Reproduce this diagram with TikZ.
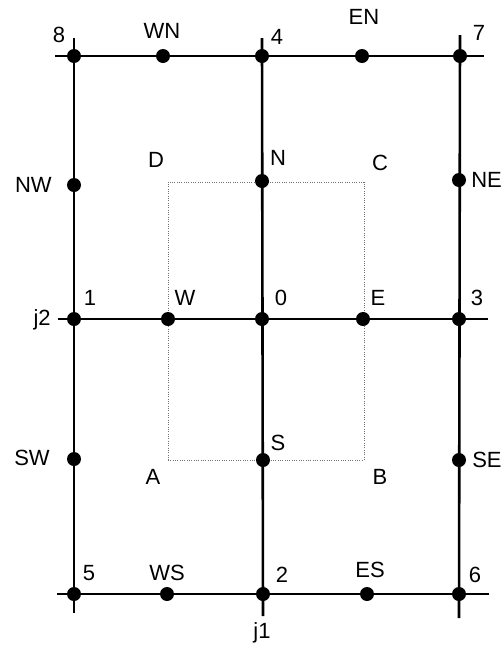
\documentclass[tikz,border=0pt]{standalone}
\usepackage{fontspec}
\setmainfont{Liberation Sans}
\usepackage{tikz}

\begin{document}
\begin{tikzpicture}[x=0.75pt,y=-0.75pt,
        gridline/.style={line width=1.95pt, black, line cap=butt},
        cell/.style={draw=black!55, line width=0.75pt, densely dotted},
        knot/.style={circle, fill=black, inner sep=0pt, minimum size=10.5pt},
        lbl/.style={inner sep=0pt, font=\fontsize{16.5}{18}\selectfont}]

        \useasboundingbox (0,0) rectangle (504,647);

        \coordinate (lt) at (74,38);
        \coordinate (lb) at (74,613);
        \coordinate (ct) at (262,38);
        \coordinate (cb) at (263,616);
        \coordinate (rt) at (460,35);
        \coordinate (rb) at (459,618);
        \coordinate (tw) at (55,56);
        \coordinate (te) at (484,56);
        \coordinate (mw) at (58,319);
        \coordinate (me) at (488,319);
        \coordinate (bw) at (57,594);
        \coordinate (be) at (489,594);

        \coordinate (cA) at (168,460);
        \coordinate (cB) at (364,460);
        \coordinate (cC) at (364,182);
        \coordinate (cD) at (168,182);

        \draw[cell] (cA) -- (cB) -- (cC) -- (cD) -- cycle;

        \draw[gridline] (lt) -- (lb);
        \draw[gridline] (ct) -- (cb);
        \draw[gridline] (rt) -- (rb);
        \draw[gridline] (tw) -- (te);
        \draw[gridline] (mw) -- (me);
        \draw[gridline] (bw) -- (be);

        \node[knot] (p8) at (74,56) {};
        \node[knot] (wn) at (163,56) {};
        \node[knot] (p4) at (262,56) {};
        \node[knot] (en) at (362,56) {};
        \node[knot] (p7) at (460,56) {};

        \node[knot] (nw) at (74,185) {};
        \node[knot] (nn) at (262,181) {};
        \node[knot] (ne) at (459,180) {};

        \node[knot] (p1) at (74,319) {};
        \node[knot] (ww) at (168,319) {};
        \node[knot] (p0) at (262,319) {};
        \node[knot] (ee) at (363,319) {};
        \node[knot] (p3) at (459,319) {};

        \node[knot] (sw) at (74,459) {};
        \node[knot] (ss) at (263,460) {};
        \node[knot] (se) at (459,460) {};

        \node[knot] (p5) at (74,594) {};
        \node[knot] (ws) at (167,594) {};
        \node[knot] (p2) at (263,594) {};
        \node[knot] (es) at (367,594) {};
        \node[knot] (p6) at (459,594) {};

        \node[lbl] (l8) at (59,35) {8};
        \node[lbl] (lwn) at (162,31) {WN};
        \node[lbl] (l4) at (277,37) {4};
        \node[lbl] (len) at (364,17) {EN};
        \node[lbl] (l7) at (479,33) {7};

        \node[lbl,anchor=east] (lnw) at (52,185) {NW};
        \node[lbl] (lD) at (156,160) {D};
        \node[lbl] (lN) at (278,158) {N};
        \node[lbl] (lC) at (380,163) {C};
        \node[lbl,anchor=west] (lne) at (471,180) {NE};

        \node[lbl,anchor=east] (lj2) at (51,320) {j2};
        \node[lbl] (l1) at (90,298) {1};
        \node[lbl] (lW) at (185,298) {W};
        \node[lbl] (l0) at (281,298) {0};
        \node[lbl] (lE) at (378,298) {E};
        \node[lbl] (l3) at (477,298) {3};

        \node[lbl,anchor=east] (lsw) at (50,458) {SW};
        \node[lbl] (lA) at (153,477) {A};
        \node[lbl] (lS) at (278,443) {S};
        \node[lbl] (lB) at (380,477) {B};
        \node[lbl,anchor=west] (lse) at (472,460) {SE};

        \node[lbl] (l5) at (89,573) {5};
        \node[lbl] (lws) at (167,573) {WS};
        \node[lbl] (l2) at (282,575) {2};
        \node[lbl] (les) at (370,570) {ES};
        \node[lbl] (l6) at (475,575) {6};

        \node[lbl] (lj1) at (262,633) {j1};
   \end{tikzpicture}
\end{document}
